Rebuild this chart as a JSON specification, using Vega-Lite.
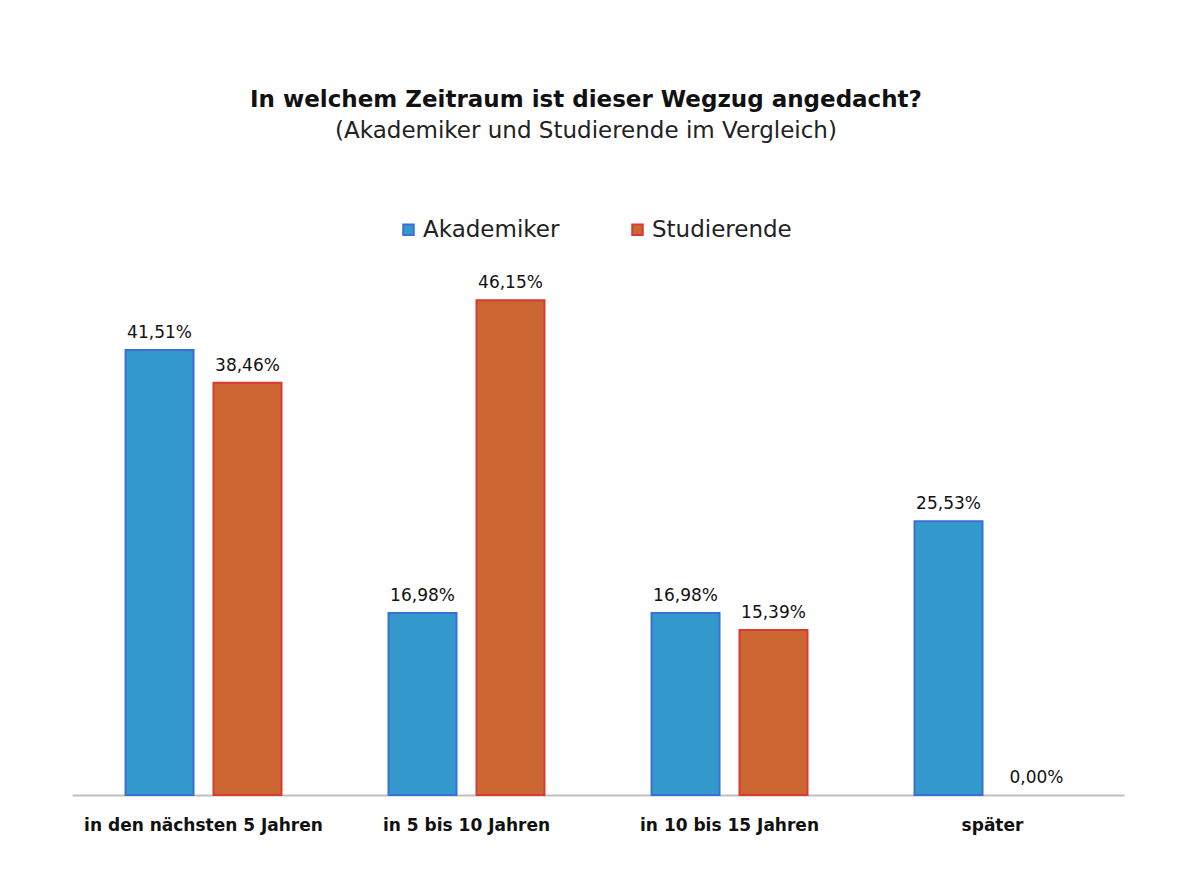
{
  "$schema": "https://vega.github.io/schema/vega-lite/v6.json",
  "autosize": {"type": "none"},
  "width": 1052,
  "height": 536,
  "padding": {"left": 72, "top": 259, "right": 68, "bottom": 82},
  "background": "white",
  "config": {
    "locale": {"number": {"decimal": ",", "thousands": ".", "grouping": [3], "currency": ["", " €"]}},
    "view": {"stroke": null},
    "font": "DejaVu Sans"
  },
  "title": {
    "text": "In welchem Zeitraum ist dieser Wegzug angedacht?",
    "subtitle": "(Akademiker und Studierende im Vergleich)",
    "fontSize": 23,
    "subtitleFontSize": 23,
    "font": "DejaVu Sans",
    "subtitleFont": "DejaVu Sans",
    "fontWeight": "bold",
    "color": "#111111",
    "subtitleColor": "#222222",
    "subtitlePadding": 8,
    "anchor": "middle",
    "offset": 75,
    "dx": -12
  },
  "data": {
    "values": [
      {"zeitraum": "in den nächsten 5 Jahren", "gruppe": "Akademiker", "anteil": 0.4151},
      {"zeitraum": "in den nächsten 5 Jahren", "gruppe": "Studierende", "anteil": 0.3846},
      {"zeitraum": "in 5 bis 10 Jahren", "gruppe": "Akademiker", "anteil": 0.1698},
      {"zeitraum": "in 5 bis 10 Jahren", "gruppe": "Studierende", "anteil": 0.4615},
      {"zeitraum": "in 10 bis 15 Jahren", "gruppe": "Akademiker", "anteil": 0.1698},
      {"zeitraum": "in 10 bis 15 Jahren", "gruppe": "Studierende", "anteil": 0.1539},
      {"zeitraum": "später", "gruppe": "Akademiker", "anteil": 0.2553},
      {"zeitraum": "später", "gruppe": "Studierende", "anteil": 0.0}
    ]
  },
  "encoding": {
    "x": {
      "field": "zeitraum",
      "type": "nominal",
      "sort": ["in den nächsten 5 Jahren", "in 5 bis 10 Jahren", "in 10 bis 15 Jahren", "später"],
      "scale": {"paddingInner": 0.407, "paddingOuter": 0.2035},
      "axis": {
        "title": null,
        "labelAngle": 0,
        "labelFontSize": 17,
        "labelFont": "DejaVu Sans",
        "labelFontWeight": "bold",
        "labelColor": "#111111",
        "labelPadding": 22,
        "labelLimit": 0,
        "ticks": false,
        "domainColor": "#c0c0c0",
        "domainWidth": 2
      }
    },
    "xOffset": {
      "field": "gruppe",
      "type": "nominal",
      "sort": ["Akademiker", "Studierende"],
      "scale": {"paddingInner": 0.227, "paddingOuter": 0}
    },
    "y": {
      "field": "anteil",
      "type": "quantitative",
      "scale": {"domain": [0, 0.5]},
      "axis": null
    }
  },
  "layer": [
    {
      "mark": {"type": "bar", "strokeWidth": 2},
      "encoding": {
        "color": {
          "field": "gruppe",
          "type": "nominal",
          "scale": {"domain": ["Akademiker", "Studierende"], "range": ["#3399cc", "#cc6633"]},
          "legend": {
            "title": null,
            "orient": "none",
            "direction": "horizontal",
            "legendX": 325,
            "legendY": -41,
            "labelFontSize": 23,
            "labelFont": "DejaVu Sans",
            "labelColor": "#222222",
            "symbolType": "square",
            "symbolSize": 110,
            "symbolStrokeWidth": 2,
            "columnPadding": 66,
            "labelOffset": 3,
            "labelLimit": 0
          }
        },
        "stroke": {
          "field": "gruppe",
          "type": "nominal",
          "scale": {"domain": ["Akademiker", "Studierende"], "range": ["#3a6fd5", "#d93a32"]},
          "legend": {
            "title": null,
            "orient": "none",
            "direction": "horizontal",
            "legendX": 325,
            "legendY": -41,
            "labelFontSize": 23,
            "labelFont": "DejaVu Sans",
            "labelColor": "#222222",
            "symbolType": "square",
            "symbolSize": 110,
            "symbolStrokeWidth": 2,
            "columnPadding": 66,
            "labelOffset": 3,
            "labelLimit": 0
          }
        },
        "strokeOpacity": {"condition": {"test": "datum.anteil === 0", "value": 0}, "value": 1}
      }
    },
    {
      "mark": {"type": "text", "baseline": "bottom", "dy": -8, "fontSize": 17, "font": "DejaVu Sans", "color": "#111111"},
      "encoding": {
        "text": {"field": "anteil", "type": "quantitative", "format": ".2%"}
      }
    }
  ]
}
